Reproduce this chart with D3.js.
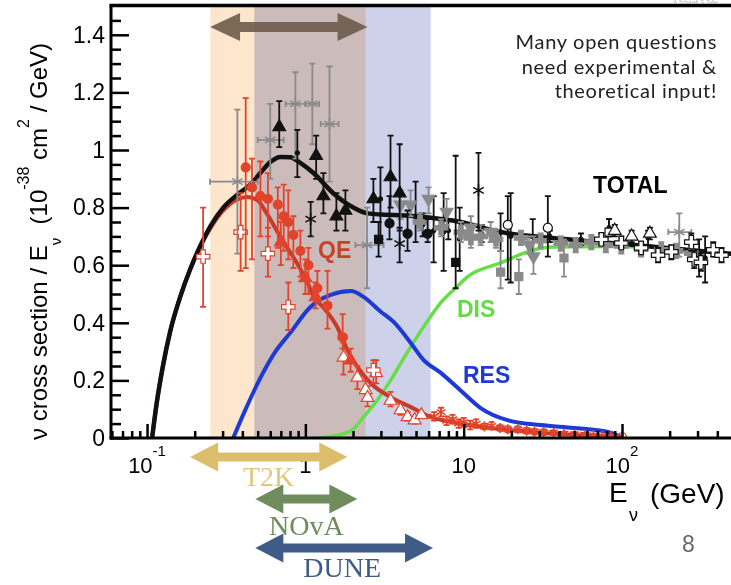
<!DOCTYPE html>
<html>
<head>
<meta charset="utf-8">
<script src="https://cdn.jsdelivr.net/npm/d3@7"></script>
<style>
  body { margin: 0; background: #fff; }
  svg { display: block; font-family: "Liberation Sans", Arial, sans-serif; }
</style>
</head>
<body>
<script>
// ---- data: energies in GeV, cross section / E in 1e-38 cm^2/GeV ----
var xDomain = [0.0592, 488];
var yDomain = [0, 1.5];
var yTicks = [0, 0.2, 0.4, 0.6, 0.8, 1, 1.2, 1.4];
var xTicks = [0.1, 1, 10, 100];
var xTickBase = ["10", "1", "10", "10"];
var xTickExp = ["-1", "", "", "2"];

var totalCurve = [[0.1076,0],[0.115,0.12],[0.126,0.25],[0.140,0.37],[0.162,0.49],[0.187,0.585],[0.216,0.665],[0.251,0.735],
  [0.303,0.80],[0.372,0.845],[0.449,0.88],[0.519,0.92],[0.600,0.958],[0.695,0.976],[0.803,0.975],[0.929,0.955],
  [1.125,0.92],[1.50,0.85],[2.01,0.80],[2.47,0.78],[4.83,0.77],[9.57,0.75],[17.1,0.715],[45.5,0.69],[119,0.67],[490,0.64]];
var qeCurve = [[0.1076,0],[0.115,0.12],[0.126,0.25],[0.140,0.37],[0.162,0.49],[0.187,0.585],[0.216,0.662],[0.251,0.728],
  [0.303,0.79],[0.372,0.828],[0.43,0.837],[0.50,0.825],[0.57,0.78],[0.66,0.72],[0.77,0.66],[0.89,0.605],[1.03,0.54],
  [1.13,0.49],[1.29,0.455],[1.59,0.385],[1.84,0.306],[2.13,0.247],[2.58,0.191],[3.45,0.142],[4.61,0.108],[6.17,0.073],
  [9.1,0.052],[23,0.024],[98,0.003]];
var resCurve = [[0.350,0],[0.417,0.097],[0.519,0.208],[0.645,0.299],[0.802,0.365],[1.076,0.455],[1.445,0.497],[1.94,0.51],
  [2.33,0.49],[2.97,0.44],[3.61,0.403],[4.63,0.33],[5.57,0.271],[7.17,0.226],[9.57,0.165],[12.8,0.104],[18.9,0.062],
  [30.6,0.045],[49.6,0.035],[81.6,0.021],[99,0.003]];
var disCurve = [[1.24,0],[1.93,0.024],[2.33,0.073],[2.85,0.132],[3.45,0.20],[4.43,0.30],[5.57,0.385],[7.17,0.47],[9.1,0.526],
  [10.6,0.56],[17.1,0.608],[27.6,0.653],[37,0.663],[98,0.665],[490,0.64]];

// points: [E, value, low, high, (Elow, Ehigh)]
var redCircles = [[0.42,0.94,0.59,1.18],[0.46,0.87,0.62,0.97],[0.52,0.84,0.70,0.96],[0.58,0.83,0.70,0.92],[0.67,0.81,0.66,0.87],
  [0.73,0.77,0.65,0.88],[0.78,0.75,0.62,0.86],[0.84,0.705,0.59,0.77],[0.93,0.65,0.56,0.72],[1.045,0.60,0.50,0.66],
  [1.19,0.52,0.47,0.58],[1.38,0.46,0.38,0.58,1.32,1.45],[1.72,0.35,0.31,0.43,1.62,1.82]];
var redTriangles = [[0.70,0.68,0.60,0.75],[1.0,0.556,0.50,0.62],[1.16,0.49,0.45,0.54],[1.93,0.27,0.23,0.31]];
var redOpenTriangles = [[1.74,0.28,0.22,0.33],[2.13,0.21,0.17,0.25],[2.40,0.167,0.13,0.20],[2.47,0.14,0.11,0.18],
  [2.80,0.226,0.19,0.27],[3.45,0.13,0.11,0.16],[3.99,0.097,0.08,0.12],[4.42,0.073,0.06,0.09],[4.9,0.062,0.05,0.075],[5.4,0.08,0.07,0.09]];
var redOpenCrosses = [[0.226,0.63,0.455,0.80],[0.39,0.715,0.58,0.85],[0.58,0.64,0.56,0.73],[0.78,0.455,0.375,0.54],[2.69,0.236,0.19,0.27]];
var redStars = [[6.5,0.075,0.06,0.09],[7.2,0.09,0.075,0.105],[7.8,0.06,0.045,0.075],[8.5,0.065,0.05,0.08],[9.3,0.05,0.035,0.065],
  [10,0.055,0.04,0.07],[11,0.045,0.03,0.06],[12,0.05,0.035,0.065],[13.5,0.04,0.03,0.05],[15,0.042,0.03,0.055],[17,0.035,0.025,0.045],
  [19,0.03,0.02,0.04],[22,0.03,0.02,0.04],[25,0.025,0.015,0.035],[28,0.022,0.012,0.032],[32,0.02,0.01,0.03],[37,0.018,0.01,0.026],
  [43,0.015,0.008,0.022],[50,0.013,0.006,0.02],[58,0.012,0.006,0.018],[66,0.01,0.005,0.015],[75,0.008,0.004,0.012],[85,0.006,0.003,0.01]];
var redOpenCircles = [[100,0.003]];
var grayStars = [[0.372,0.89,0.64,1.14,0.25,0.50],[0.60,1.035,0.90,1.16,0.50,0.73],[0.865,1.16,0.97,1.27,0.75,1.0],
  [1.107,1.16,1.02,1.30,1.0,1.22],[1.42,1.09,0.89,1.29,1.25,1.62],[2.45,0.67,0.52,0.80,2.07,3.12],[230,0.715,0.63,0.78,196,274]];
var blackTriangles = [[0.684,1.08,1.01,1.17],[1.17,0.98,0.90,1.05],[1.30,0.84,0.78,0.92],[1.57,0.77,0.72,0.85],[1.79,0.79,0.72,0.86],
  [2.69,0.83,0.75,0.90],[3.45,0.906,0.80,1.05],[3.94,0.85,0.72,1.02]];
var blackCircles = [[3.40,0.745,0.69,0.84],[4.42,0.71,0.65,0.79],[5.92,0.71,0.68,0.76]];
var blackSquares = [[2.90,0.69,0.63,0.75],[8.9,0.61,0.52,0.98]];
var blackStars = [[1.08,0.76,0.70,0.82],[3.94,0.675,0.61,0.73],[12.4,0.86,0.72,0.99]];
var blackDots = [[0.89,0.99,0.906,1.07],[2.98,0.83,0.69,0.94],[4.97,0.77,0.68,0.89],[5.5,0.74,0.70,0.78],[6.46,0.72,0.61,0.84],
  [7.47,0.715,0.58,0.85],[8,0.72,0.69,0.76],[9.43,0.69,0.58,0.80],[13,0.71,0.68,0.74],[17.1,0.715,0.65,0.78],[19.8,0.70,0.54,0.85],
  [27.3,0.70,0.63,0.76],[35,0.70,0.68,0.72],[55,0.69,0.67,0.71],[82.8,0.73,0.70,0.76],[146,0.695,0.67,0.72],[307,0.625,0.56,0.69],[335,0.625,0.54,0.70]];
var openCircles = [[19.0,0.74,0.55,0.84],[34.0,0.73,0.63,0.84]];
var openSquares = [[82.8,0.715,0.70,0.76]];
var graySquares = [[17.1,0.576,0.52,0.65],[22.3,0.56,0.50,0.62],[43.0,0.625,0.56,0.69]];
var grayTriDown = [[3.99,0.81,0.76,0.86],[4.62,0.81,0.77,0.86],[6.0,0.83,0.78,0.87],[7.8,0.785,0.74,0.83],[11.1,0.73,0.70,0.77],
  [14.8,0.715,0.68,0.75],[26,0.67,0.64,0.70],[27.6,0.63,0.57,0.70]];
var grayCrosses = [[5.3,0.75,0.72,0.78],[7.2,0.73,0.70,0.76],[9.6,0.715,0.68,0.75],[11.1,0.695,0.66,0.73],[12.8,0.70,0.67,0.74],
  [16,0.69,0.66,0.72],[23,0.695,0.67,0.72],[30.6,0.685,0.66,0.71],[41,0.677,0.65,0.70],[51,0.67,0.645,0.695],[64,0.68,0.655,0.705],
  [79,0.67,0.645,0.695],[99,0.667,0.64,0.69],[132,0.656,0.63,0.68],[177,0.653,0.63,0.68],[220,0.65,0.625,0.675],[274,0.642,0.615,0.67]];
var openCrosses = [[74,0.69,0.67,0.71],[99,0.677,0.66,0.70],[132,0.66,0.64,0.68],[169,0.635,0.61,0.66],[205,0.646,0.62,0.67],
  [274,0.68,0.65,0.71],[286,0.62,0.59,0.65],[315,0.61,0.58,0.64],[377,0.653,0.63,0.68],[425,0.635,0.61,0.66]];
var openTriangles = [[90,0.72,0.70,0.74],[115,0.70,0.68,0.72],[150,0.71,0.69,0.73]];

// experiment energy ranges
var bandRanges = [[0.251, 2.40], [0.476, 6.18]];
var topArrowRange = [0.25, 2.47];
var experiments = ["T2K", "NOvA", "DUNE"];
var experimentRanges = [[0.187, 1.84], [0.483, 2.13], [0.483, 6.4]];
var noteLines = ["Many open questions", "need experimental &", "theoretical input!"];

// ---- drawing ----
var svg = d3.select("body").append("svg").attr("width", 731).attr("height", 585);

var x = d3.scaleLog().domain(xDomain).range([111, 731]);
var y = d3.scaleLinear().domain(yDomain).range([438, 6]);

svg.append("defs").append("clipPath").attr("id", "clip")
  .append("rect").attr("x", 111).attr("y", 6).attr("width", 620).attr("height", 432);

// beam bands
var bandColors = ["#fde6cc", "#cdd1ea"];
svg.append("g").selectAll("rect").data(bandRanges).enter().append("rect")
  .attr("x", function(d) { return x(d[0]); })
  .attr("width", function(d) { return x(d[1]) - x(d[0]); })
  .attr("y", y(yDomain[1])).attr("height", y(0) - y(yDomain[1]))
  .attr("fill", function(d, i) { return bandColors[i]; })
  .style("mix-blend-mode", "multiply");

function arrowPath(x1, x2, yc, s, h, L) {
  return "M" + x1 + "," + yc + "L" + (x1 + L) + "," + (yc - h) + "L" + (x1 + L) + "," + (yc - s) +
    "L" + (x2 - L) + "," + (yc - s) + "L" + (x2 - L) + "," + (yc - h) + "L" + x2 + "," + yc +
    "L" + (x2 - L) + "," + (yc + h) + "L" + (x2 - L) + "," + (yc + s) + "L" + (x1 + L) + "," + (yc + s) +
    "L" + (x1 + L) + "," + (yc + h) + "Z";
}

svg.append("path").attr("d", arrowPath(x(topArrowRange[0]), x(topArrowRange[1]), 27, 5, 14, 30))
  .attr("fill", "#6a5848").attr("opacity", 0.88);

var plot = svg.append("g").attr("clip-path", "url(#clip)");

var line = d3.line().x(function(d) { return x(d[0]); }).y(function(d) { return y(d[1]); }).curve(d3.curveMonotoneX);
plot.append("path").attr("d", line(disCurve)).attr("fill", "none").attr("stroke", "#66de48").attr("stroke-width", 3.5);
plot.append("path").attr("d", line(resCurve)).attr("fill", "none").attr("stroke", "#1d3bd4").attr("stroke-width", 4);
plot.append("path").attr("d", line(qeCurve)).attr("fill", "none").attr("stroke", "#c63b2a").attr("stroke-width", 4);
plot.append("path").attr("d", line(totalCurve)).attr("fill", "none").attr("stroke", "#111").attr("stroke-width", 4.5);

function starPath(r) {
  var a = r * 0.87, b = r * 0.5;
  return "M0," + (-r) + "V" + r + "M" + (-a) + "," + (-b) + "L" + a + "," + b + "M" + (-a) + "," + b + "L" + a + "," + (-b);
}

function drawSeries(data, o) {
  var g = plot.append("g");
  var cap = 3;
  g.selectAll(".ey").data(data.filter(function(d) { return d.length > 2; })).enter().append("path")
    .attr("d", function(d) {
      var xx = x(d[0]), y1 = y(d[2]), y2 = y(d[3]);
      return "M" + xx + "," + y1 + "V" + y2 + "M" + (xx - cap) + "," + y1 + "H" + (xx + cap) + "M" + (xx - cap) + "," + y2 + "H" + (xx + cap);
    })
    .attr("fill", "none").attr("stroke", o.bar).attr("stroke-width", 1.8);
  g.selectAll(".ex").data(data.filter(function(d) { return d.length > 4; })).enter().append("path")
    .attr("d", function(d) {
      var yy = y(d[1]), x1 = x(d[4]), x2 = x(d[5]);
      return "M" + x1 + "," + yy + "H" + x2 + "M" + x1 + "," + (yy - cap) + "V" + (yy + cap) + "M" + x2 + "," + (yy - cap) + "V" + (yy + cap);
    })
    .attr("fill", "none").attr("stroke", o.bar).attr("stroke-width", 1.8);
  g.selectAll(".m").data(data).enter().append("path")
    .attr("transform", function(d) { return "translate(" + x(d[0]) + "," + y(d[1]) + ")" + (o.flip ? " rotate(180)" : ""); })
    .attr("d", o.path)
    .attr("fill", o.fill).attr("stroke", o.stroke).attr("stroke-width", o.sw || 1.2);
}

var circ = d3.symbol(d3.symbolCircle, 64)();
var smallCirc = d3.symbol(d3.symbolCircle, 14)();
var tri = d3.symbol(d3.symbolTriangle, 70)();
var sq = d3.symbol(d3.symbolSquare, 64)();
var cross = d3.symbol(d3.symbolCross, 100)();

var red = "#e2432a", blk = "#111", gry = "#8a8a8a";
drawSeries(redStars, {path: starPath(5), fill: "none", stroke: red, bar: red, sw: 1.6});
drawSeries(redOpenTriangles, {path: tri, fill: "#fff", stroke: red, bar: red});
drawSeries(redOpenCrosses, {path: cross, fill: "#fff", stroke: red, bar: red});
drawSeries(redCircles, {path: circ, fill: red, stroke: red, bar: red});
drawSeries(redTriangles, {path: tri, fill: red, stroke: red, bar: red});
drawSeries(redOpenCircles, {path: circ, fill: "none", stroke: red, bar: red});
drawSeries(grayStars, {path: starPath(6), fill: "none", stroke: gry, bar: gry, sw: 1.6});
drawSeries(blackDots, {path: smallCirc, fill: blk, stroke: blk, bar: blk});
drawSeries(grayCrosses, {path: cross, fill: gry, stroke: gry, bar: gry});
drawSeries(grayTriDown, {path: tri, fill: gry, stroke: gry, bar: gry, flip: true});
drawSeries(graySquares, {path: sq, fill: gry, stroke: gry, bar: gry});
drawSeries(blackTriangles, {path: tri, fill: blk, stroke: blk, bar: blk});
drawSeries(blackCircles, {path: circ, fill: blk, stroke: blk, bar: blk});
drawSeries(blackSquares, {path: sq, fill: blk, stroke: blk, bar: blk});
drawSeries(blackStars, {path: starPath(6), fill: "none", stroke: blk, bar: blk, sw: 1.6});
drawSeries(openCircles, {path: circ, fill: "#fff", stroke: blk, bar: blk});
drawSeries(openSquares, {path: sq, fill: "#fff", stroke: blk, bar: blk});
drawSeries(openCrosses, {path: cross, fill: "#fff", stroke: blk, bar: blk});
drawSeries(openTriangles, {path: tri, fill: "#fff", stroke: blk, bar: blk});

// axes with inward ticks
var minorY = d3.range(0, 1.5, 0.05).filter(function(v) { return Math.abs(v * 5 - Math.round(v * 5)) > 1e-6; });
var yMinor = svg.append("g").attr("transform", "translate(111,0)")
  .call(d3.axisLeft(y).tickValues(minorY).tickSize(-10).tickFormat(""));
var yMajor = svg.append("g").attr("transform", "translate(111,0)")
  .call(d3.axisLeft(y).tickValues(yTicks).tickSize(-18).tickPadding(6)
    .tickFormat(function(d) { return d === 0 ? "0" : String(+d.toFixed(1)); }));
var minorX = x.ticks().filter(function(v) { return xTicks.indexOf(v) < 0; });
var xMinor = svg.append("g").attr("transform", "translate(0,438)")
  .call(d3.axisBottom(x).tickValues(minorX).tickSize(-7).tickFormat(""));
var xMajor = svg.append("g").attr("transform", "translate(0,438)")
  .call(d3.axisBottom(x).tickValues(xTicks).tickSize(-14).tickFormat(""));
[yMinor, yMajor, xMinor, xMajor].forEach(function(g) {
  g.select(".domain").remove();
  g.selectAll(".tick line").attr("stroke", "#000").attr("stroke-width", 2.5);
});
yMajor.selectAll(".tick text").attr("fill", "#000").style("font-size", "23px").style("font-family", "Liberation Sans, Arial, sans-serif");

svg.append("line").attr("x1", 111).attr("x2", 111).attr("y1", 5).attr("y2", 439.5).attr("stroke", "#000").attr("stroke-width", 3);
svg.append("line").attr("x1", 109.5).attr("x2", 731).attr("y1", 438).attr("y2", 438).attr("stroke", "#000").attr("stroke-width", 3);
svg.append("line").attr("x1", 109.5).attr("x2", 731).attr("y1", 5.5).attr("y2", 5.5).attr("stroke", "#000").attr("stroke-width", 3.5);

// x tick labels with exponents
xTicks.forEach(function(v, i) {
  var t = svg.append("text").attr("x", x(v)).attr("y", 473).attr("text-anchor", "middle").style("font-size", "22px");
  t.append("tspan").text(xTickBase[i]);
  if (xTickExp[i]) t.append("tspan").attr("dy", -17).style("font-size", "15px").text(xTickExp[i]);
});

// axis titles
var ylab = svg.append("text").attr("transform", "translate(47,440) rotate(-90)")
  .style("font-size", "24px").style("white-space", "pre");
ylab.append("tspan").text("ν cross section / E");
ylab.append("tspan").attr("dy", 14).style("font-size", "15px").text("ν");
ylab.append("tspan").attr("dy", -14).text("  (10");
ylab.append("tspan").attr("dy", -18).style("font-size", "16px").text("-38");
ylab.append("tspan").attr("dy", 18).text(" cm");
ylab.append("tspan").attr("dy", -18).style("font-size", "16px").text("2");
ylab.append("tspan").attr("dy", 18).text(" / GeV)");

svg.append("text").attr("x", 609).attr("y", 502).style("font-size", "28px").text("E");
svg.append("text").attr("x", 629).attr("y", 521).style("font-size", "18px").text("ν");
svg.append("text").attr("x", 650).attr("y", 503).style("font-size", "28px").text("(GeV)");

// curve labels
svg.append("text").attr("x", 318).attr("y", 258).style("font-size", "23px").style("font-weight", "bold").attr("fill", "#c8412c").text("QE");
svg.append("text").attr("x", 593).attr("y", 193).style("font-size", "23px").style("font-weight", "bold").attr("fill", "#000").text("TOTAL");
svg.append("text").attr("x", 457).attr("y", 317).style("font-size", "23px").style("font-weight", "bold").attr("fill", "#62dc45").text("DIS");
svg.append("text").attr("x", 463).attr("y", 383).style("font-size", "23px").style("font-weight", "bold").attr("fill", "#1c3ad6").text("RES");

// note, credit line and slide number
svg.append("g").selectAll("text").data(noteLines).enter().append("text")
  .attr("x", 717).attr("y", function(d, i) { return 49 + i * 24.5; })
  .attr("text-anchor", "end").attr("fill", "#222")
  .style("font-family", "Lato, Open Sans, sans-serif").style("font-size", "20px").style("letter-spacing", "0.7px")
  .text(function(d) { return d; });
svg.append("text").attr("x", 718).attr("y", 3.5).attr("text-anchor", "end").attr("fill", "#aaa")
  .style("font-size", "4.5px").text("A. Schukraft, G. Zeller");
svg.append("text").attr("x", 682).attr("y", 552).attr("fill", "#666").style("font-size", "23px").text("8");

// experiment arrows below the axis
var expColors = ["#dcbd6c", "#6f8c5c", "#3f5b88"];
var expLabelColors = ["#e2c57e", "#6f8c5c", "#3f5b88"];
var expY = [457, 499, 548];
var expLabelY = [486, 535, 577];
experiments.forEach(function(name, i) {
  var r = experimentRanges[i];
  svg.append("path").attr("d", arrowPath(x(r[0]), x(r[1]), expY[i], 4.5, 14.5, 28)).attr("fill", expColors[i]);
  svg.append("text").attr("x", (x(r[0]) + x(r[1])) / 2 + (i === 2 ? -2 : 0)).attr("y", expLabelY[i])
    .attr("text-anchor", "middle").attr("fill", expLabelColors[i])
    .style("font-family", "Liberation Serif, Times New Roman, serif").style("font-size", "28px").text(name);
});
</script>
</body>
</html>
